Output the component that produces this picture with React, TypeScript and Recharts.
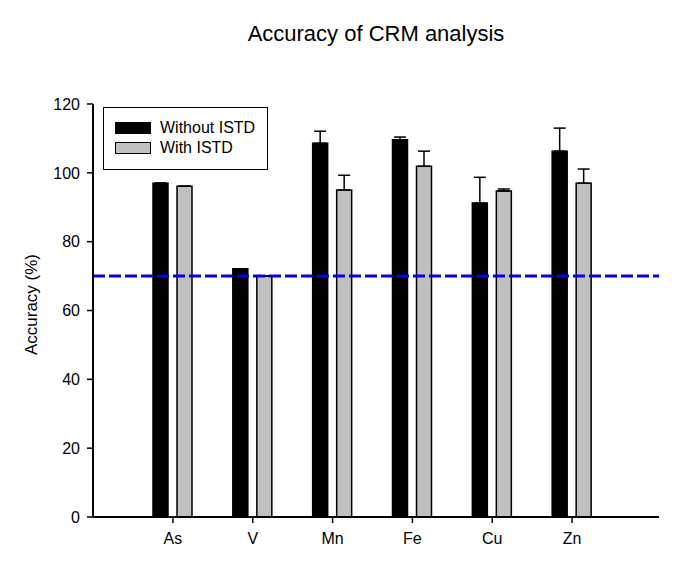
import { BarChart, Bar, XAxis, YAxis, ErrorBar, ReferenceLine } from 'recharts';

const elements = ['As', 'V', 'Mn', 'Fe', 'Cu', 'Zn'];
const withoutIstd = [97.0, 72.1, 108.6, 109.6, 91.2, 106.3];
const withoutIstdErr = [0, 0, 3.5, 0.8, 7.5, 6.7];
const withIstd = [96.1, 70.0, 95.0, 101.9, 94.7, 97.0];
const withIstdErr = [0, 0, 4.3, 4.4, 0.6, 4.1];
const yTicks = [0, 20, 40, 60, 80, 100, 120];
const threshold = 70;

const FONT = '"Liberation Sans", Arial, sans-serif';

// error bars only go up in the original, so low side = 0
const rows = elements.map((el, i) => ({
  el,
  without: withoutIstd[i],
  withoutErr: [0, withoutIstdErr[i]],
  with: withIstd[i],
  withErr: [0, withIstdErr[i]],
}));

function LegendBox() {
  const item = (label: string, fill: string, top: number) => (
    <div key={label}>
      <div
        style={{
          position: 'absolute',
          left: 11,
          top,
          width: 36,
          height: 12,
          boxSizing: 'border-box',
          background: fill,
          border: '1px solid #000',
        }}
      />
      <div
        style={{
          position: 'absolute',
          left: 56,
          top: top - 2,
          fontSize: 16,
          lineHeight: '16px',
          whiteSpace: 'nowrap',
        }}
      >
        {label}
      </div>
    </div>
  );
  return (
    <div
      style={{
        position: 'absolute',
        left: 103,
        top: 107,
        width: 165,
        height: 63,
        boxSizing: 'border-box',
        border: '1px solid #000',
        background: '#fff',
        fontFamily: FONT,
      }}
    >
      {item('Without ISTD', '#000000', 14)}
      {item('With ISTD', '#c0c0c0', 34)}
    </div>
  );
}

export default function App() {
  return (
    <div style={{ position: 'absolute', left: 0, top: 0, width: 687, height: 573, fontFamily: FONT }}>
      <BarChart
        width={687}
        height={573}
        data={rows}
        margin={{ top: 104, right: 28, bottom: 0, left: 0 }}
        barSize={15}
        barGap={9}
      >
        <XAxis
          dataKey="el"
          height={56}
          padding={{ left: 40, right: 47 }}
          axisLine={{ stroke: '#000', strokeWidth: 2 }}
          tickLine={{ stroke: '#000', strokeWidth: 1.5 }}
          tickSize={6}
          tickMargin={10}
          tick={{ fill: '#000', fontSize: 16, fontFamily: FONT }}
        />
        <XAxis xAxisId="top" orientation="top" dataKey="el" height={0} tick={false} tickLine={false} axisLine={{ stroke: '#000', strokeWidth: 1.5 }} />
        <YAxis
          width={93}
          domain={[0, 120]}
          ticks={yTicks}
          axisLine={{ stroke: '#000', strokeWidth: 2 }}
          tickLine={{ stroke: '#000', strokeWidth: 1.5 }}
          tickSize={6}
          tickMargin={7}
          tick={{ fill: '#000', fontSize: 16, fontFamily: FONT }}
        />
        <YAxis yAxisId="r" orientation="right" width={0} tick={false} tickLine={false} axisLine={{ stroke: '#000', strokeWidth: 1.5 }} />
        <Bar dataKey="without" name="Without ISTD" fill="#000000" stroke="#000" strokeWidth={1.5} isAnimationActive={false}>
          <ErrorBar dataKey="withoutErr" width={6} stroke="#000" strokeWidth={1.5} direction="y" />
        </Bar>
        <Bar dataKey="with" name="With ISTD" fill="#c0c0c0" stroke="#000" strokeWidth={1.5} isAnimationActive={false}>
          <ErrorBar dataKey="withErr" width={6} stroke="#000" strokeWidth={1.5} direction="y" />
        </Bar>
        <ReferenceLine y={threshold} stroke="#0000ff" strokeWidth={3} strokeDasharray="12 4" />
      </BarChart>
      <LegendBox />
      <div
        style={{
          position: 'absolute',
          left: 376,
          top: 23,
          transform: 'translateX(-50%)',
          fontSize: 22,
          lineHeight: '22px',
          whiteSpace: 'nowrap',
          color: '#000',
        }}
      >
        Accuracy of CRM analysis
      </div>
      <div
        style={{
          position: 'absolute',
          left: 31 - 100,
          top: 304 - 8.5,
          width: 200,
          height: 17,
          textAlign: 'center',
          fontSize: 17,
          lineHeight: '17px',
          transform: 'rotate(-90deg)',
          color: '#000',
        }}
      >
        Accuracy (%)
      </div>
    </div>
  );
}
